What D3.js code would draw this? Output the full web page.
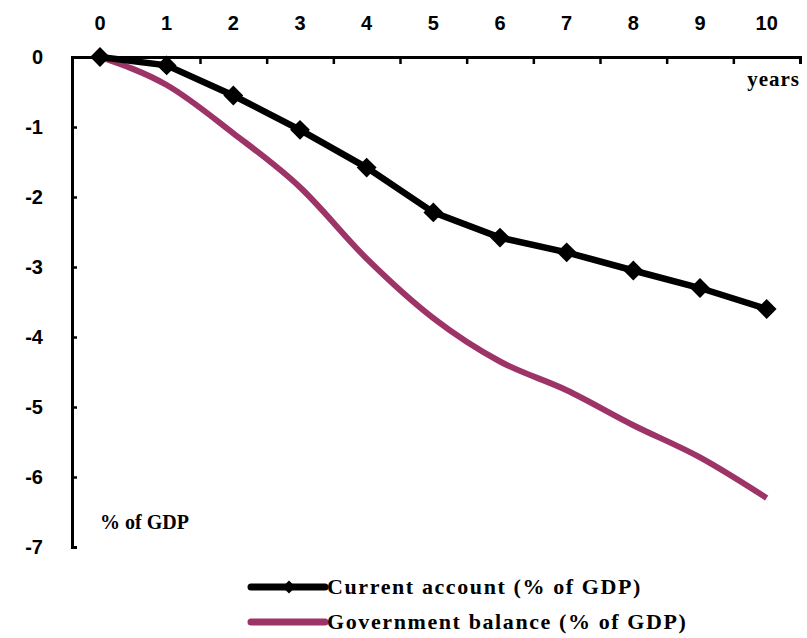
<!DOCTYPE html>
<html>
<head>
<meta charset="utf-8">
<script src="https://cdn.jsdelivr.net/npm/d3@7"></script>
<style>
  body { margin: 0; background: #fff; }
  svg { display: block; }
</style>
</head>
<body>
<script>
// data
const years = [0, 1, 2, 3, 4, 5, 6, 7, 8, 9, 10];
const currentAccount = [0, -0.12, -0.55, -1.04, -1.58, -2.22, -2.58, -2.79, -3.05, -3.3, -3.6];
const govBalance = [0, -0.4, -1.09, -1.86, -2.88, -3.73, -4.35, -4.76, -5.26, -5.72, -6.3];
const yTicks = [0, -1, -2, -3, -4, -5, -6, -7];

const width = 807, height = 638;
const pink = "#9d3468";
const numFont = "bold 20px 'Liberation Sans', Arial, sans-serif";
const serifFont = "'Liberation Serif', 'Times New Roman', serif";

const svg = d3.select("body").append("svg")
	.attr("width", width)
	.attr("height", height);

// scales
const x = d3.scaleLinear().domain([-0.42, 10.5]).range([72, 800]);
const y = d3.scaleLinear().domain([0, -7]).range([57, 547]);

// top (zero) axis: ticks between categories, labels at categories
const xAxis = d3.axisBottom(x)
	.tickValues(d3.range(0.5, 11, 1))
	.tickSize(7)
	.tickFormat("");
const gx = svg.append("g").attr("transform", `translate(0,${y(0)})`).call(xAxis);
gx.select(".domain").attr("stroke", "#000").attr("stroke-width", 3);
gx.selectAll(".tick line").attr("stroke", "#000").attr("stroke-width", 2.5);

svg.append("g").selectAll("text")
	.data(years)
	.join("text")
	.attr("x", d => x(d))
	.attr("y", 30)
	.attr("text-anchor", "middle")
	.style("font", numFont)
	.text(d => d);

// left axis
const yAxis = d3.axisRight(y)
	.tickValues(yTicks)
	.tickSize(5)
	.tickFormat("");
const gy = svg.append("g").attr("transform", `translate(${x(-0.42)},0)`).call(yAxis);
gy.select(".domain").attr("stroke", "#000").attr("stroke-width", 3);
gy.selectAll(".tick line").attr("stroke", "#000").attr("stroke-width", 2.5);

svg.append("g").selectAll("text")
	.data(yTicks)
	.join("text")
	.attr("x", 43)
	.attr("y", d => y(d) + 7)
	.attr("text-anchor", "end")
	.style("font", numFont)
	.text(d => d === 0 ? "0" : "-" + Math.abs(d));

// series
const govLine = d3.line()
	.x((d, i) => x(years[i]))
	.y(d => y(d))
	.curve(d3.curveMonotoneX);

svg.append("path")
	.datum(govBalance)
	.attr("fill", "none")
	.attr("stroke", pink)
	.attr("stroke-width", 6)
	.attr("d", govLine);

const caLine = d3.line()
	.x((d, i) => x(years[i]))
	.y(d => y(d));

svg.append("path")
	.datum(currentAccount)
	.attr("fill", "none")
	.attr("stroke", "#000")
	.attr("stroke-width", 6.5)
	.attr("d", caLine);

const diamond = d3.symbol().type(d3.symbolDiamond2).size(250);
svg.append("g").selectAll("path")
	.data(currentAccount)
	.join("path")
	.attr("transform", (d, i) => `translate(${x(years[i])},${y(d)})`)
	.attr("d", diamond)
	.attr("fill", "#000");

// annotations
svg.append("text")
	.attr("x", 800).attr("y", 86)
	.attr("text-anchor", "end")
	.style("font", "bold 21px " + serifFont)
	.style("letter-spacing", "1px")
	.text("years");

svg.append("text")
	.attr("x", 100).attr("y", 529)
	.style("font", "bold 20px " + serifFont)
	.text("% of GDP");

// legend
const legendItems = [
	{ name: "Current account (% of GDP)", color: "#000", marker: true },
	{ name: "Government balance (% of GDP)", color: pink, marker: false }
];
const legend = svg.append("g").selectAll("g")
	.data(legendItems)
	.join("g")
	.attr("transform", (d, i) => `translate(251,${587 + i * 35})`);
legend.append("line")
	.attr("x1", 0).attr("x2", 74)
	.attr("stroke", d => d.color)
	.attr("stroke-width", 7)
	.attr("stroke-linecap", "round");
legend.filter(d => d.marker).append("path")
	.attr("transform", "translate(38,0)")
	.attr("d", d3.symbol().type(d3.symbolDiamond2).size(110))
	.attr("fill", "#000");
legend.append("text")
	.attr("x", 76)
	.attr("y", 7)
	.style("font", "bold 22px " + serifFont)
	.style("letter-spacing", "1.6px")
	.text(d => d.name);
</script>
</body>
</html>
